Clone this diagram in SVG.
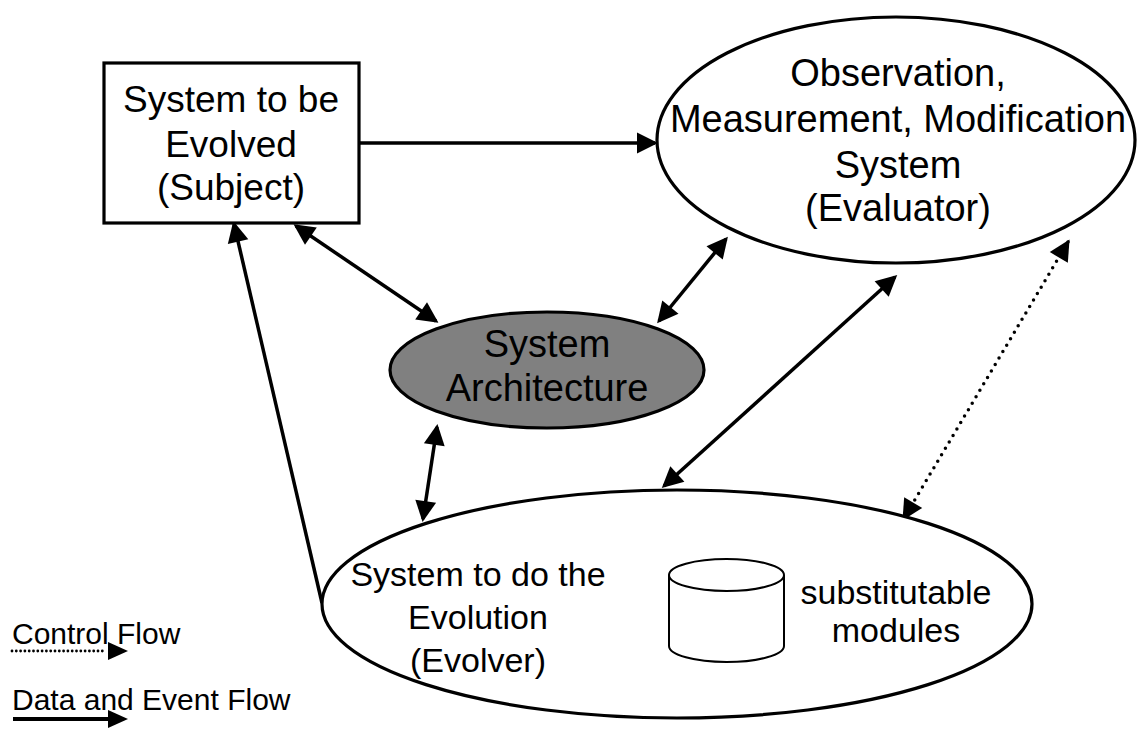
<svg xmlns="http://www.w3.org/2000/svg" width="1141" height="730" viewBox="0 0 1141 730">
<defs>
<marker id="ah" markerUnits="userSpaceOnUse" markerWidth="24" markerHeight="24" refX="18" refY="10.5" orient="auto-start-reverse" viewBox="0 0 24 24" overflow="visible">
<path d="M0,0 L21,10.5 L0,21 z" fill="#000"/>
</marker>
</defs>
<style>
.t{font-family:"Liberation Sans",Arial,Helvetica,sans-serif;fill:#000;text-anchor:middle}
.ln{stroke:#000;stroke-width:3.5;fill:none}
.dot{stroke:#000;stroke-width:3.5;fill:none;stroke-dasharray:0 7.5;stroke-linecap:round}
.shape{stroke:#000;stroke-width:3.2}
</style>
<rect width="1141" height="730" fill="#fff"/>
<g id="connectors">
<line class="ln" x1="359" y1="143" x2="655" y2="143" marker-end="url(#ah)"/>
<line class="ln" x1="296" y1="226" x2="436" y2="321" marker-start="url(#ah)" marker-end="url(#ah)"/>
<line class="ln" x1="726" y1="239" x2="659" y2="321" marker-start="url(#ah)" marker-end="url(#ah)"/>
<line class="ln" x1="322" y1="603" x2="234" y2="224" marker-end="url(#ah)"/>
<line class="ln" x1="437" y1="427" x2="423" y2="519" marker-start="url(#ah)" marker-end="url(#ah)"/>
<line class="ln" x1="895" y1="277" x2="664" y2="486" marker-start="url(#ah)" marker-end="url(#ah)"/>
<line class="dot" x1="1068" y1="242" x2="904" y2="518" marker-start="url(#ah)" marker-end="url(#ah)"/>
</g>
<g id="subject">
<rect class="shape" x="104" y="63" width="255" height="160" fill="#fff"/>
<text class="t" font-size="37" x="231" y="112">System to be</text>
<text class="t" font-size="37" x="231" y="157">Evolved</text>
<text class="t" font-size="37" x="231" y="200">(Subject)</text>
</g>
<g id="evaluator">
<ellipse class="shape" cx="896" cy="140" rx="239" ry="123" fill="#fff"/>
<text class="t" font-size="38" x="898" y="86">Observation,</text>
<text class="t" font-size="38" x="898" y="132">Measurement, Modification</text>
<text class="t" font-size="38" x="898" y="178">System</text>
<text class="t" font-size="38" x="898" y="221">(Evaluator)</text>
</g>
<g id="architecture">
<ellipse class="shape" cx="547" cy="370" rx="157" ry="58" fill="#808080"/>
<text class="t" font-size="38" x="547" y="357" fill="#1a1a1a">System</text>
<text class="t" font-size="38" x="547" y="401" fill="#1a1a1a">Architecture</text>
</g>
<g id="evolver">
<ellipse class="shape" cx="677" cy="604" rx="355" ry="114" fill="#fff"/>
<text class="t" font-size="34" x="478" y="586">System to do the</text>
<text class="t" font-size="34" x="478" y="629">Evolution</text>
<text class="t" font-size="34" x="478" y="672">(Evolver)</text>
<g id="modules">
<path d="M669,575 L669,646 A57.5,16 0 0 0 784,646 L784,575" fill="#fff" stroke="#000" stroke-width="2"/>
<ellipse cx="726.5" cy="575" rx="57.5" ry="16" fill="#fff" stroke="#000" stroke-width="2"/>
</g>
<text class="t" font-size="34" x="896" y="604">substitutable</text>
<text class="t" font-size="34" x="896" y="642">modules</text>
</g>
<g id="legend">
<text class="t" font-size="30" x="12" y="644" style="text-anchor:start">Control Flow</text>
<line x1="12" y1="651" x2="106" y2="651" stroke="#000" stroke-width="2.8" stroke-dasharray="0 4.3" stroke-linecap="round"/>
<path d="M108,642 L128,651 L108,660 z" fill="#000"/>
<text class="t" font-size="30" x="12" y="710" style="text-anchor:start">Data and Event Flow</text>
<line x1="13" y1="719" x2="110" y2="719" stroke="#000" stroke-width="4"/>
<path d="M108,710 L128,719 L108,728 z" fill="#000"/>
</g>
</svg>
